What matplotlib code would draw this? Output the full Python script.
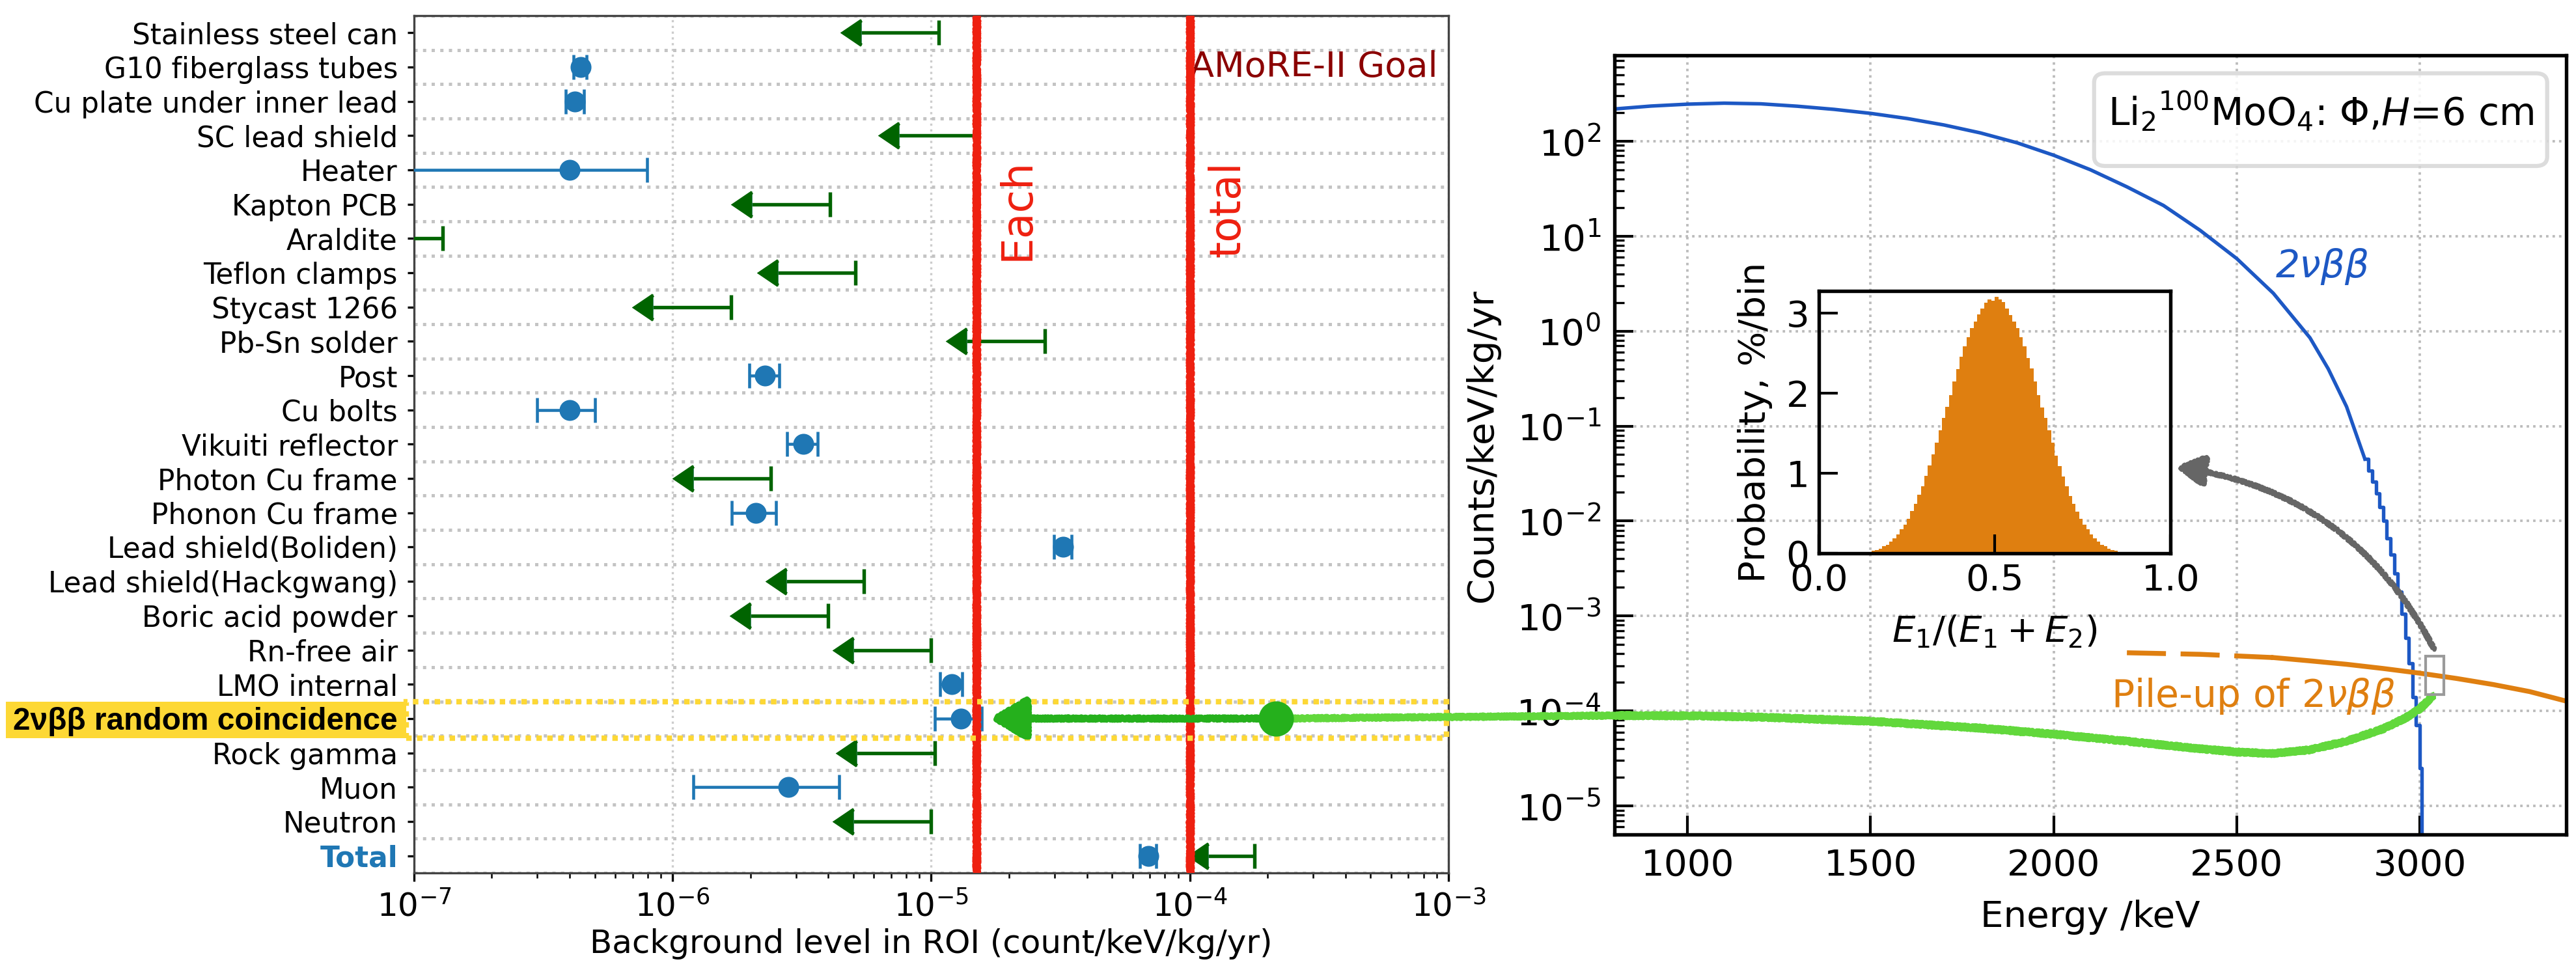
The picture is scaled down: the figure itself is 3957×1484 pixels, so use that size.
import numpy as np
import matplotlib
matplotlib.use('Agg')
import matplotlib.pyplot as plt
from matplotlib.patches import Rectangle, FancyArrowPatch, FancyBboxPatch, ConnectionPatch
from matplotlib.lines import Line2D
from matplotlib.path import Path
from matplotlib.transforms import blended_transform_factory

# ---------- left panel: background budget in ROI (count/keV/kg/yr) ----------
components = ['Stainless steel can', 'G10 fiberglass tubes', 'Cu plate under inner lead',
              'SC lead shield', 'Heater', 'Kapton PCB', 'Araldite', 'Teflon clamps',
              'Stycast 1266', 'Pb-Sn solder', 'Post', 'Cu bolts', 'Vikuiti reflector',
              'Photon Cu frame', 'Phonon Cu frame', 'Lead shield(Boliden)',
              'Lead shield(Hackgwang)', 'Boric acid powder', 'Rn-free air', 'LMO internal',
              '2νββ random coincidence', 'Rock gamma', 'Muon', 'Neutron', 'Total']

measured = [None, 4.4e-7, 4.2e-7, None, 4.0e-7, None, None, None, None, None,
            2.28e-6, 4.0e-7, 3.2e-6, None, 2.1e-6, 3.24e-5, None, None, None, 1.2e-5,
            1.3e-5, None, 2.8e-6, None, 6.9e-5]
measured_err = [None, 0.25e-7, 0.33e-7, None, 3.95e-7, None, None, None, None, None,
                0.3e-6, 1.0e-7, 0.43e-6, None, 0.41e-6, 0.25e-5, None, None, None, 0.12e-5,
                0.27e-5, None, 1.6e-6, None, 0.5e-5]
upper_limit = [1.07e-5, None, None, 1.5e-5, None, 4.05e-6, 1.29e-7, 5.1e-6, 1.68e-6, 2.75e-5,
               None, None, None, 2.4e-6, None, None, 5.5e-6, 4.0e-6, 1.0e-5, None,
               None, 1.03e-5, None, 1.0e-5, 1.78e-4]

each_goal = 1.5e-5
total_goal = 1.0e-4
rc_pileup = 2.15e-4    # 2vbb random coincidence, raw
rc_reduced = 1.71e-5   # after rejection

# ---------- right panel: 2vbb spectrum ----------
spec_E = [800, 900, 1000, 1100, 1200, 1300, 1400, 1500, 1600, 1700, 1800, 1900, 2000,
          2100, 2200, 2300, 2400, 2500, 2600, 2700, 2750, 2800, 2850]
spec_counts = [218, 234, 245, 251, 247, 233, 216, 196, 173, 148, 122, 96, 71,
               50, 33, 21, 11.5, 5.8, 2.5, 0.85, 0.4, 0.16, 0.045]
tail_E = [2850, 2860, 2870, 2880, 2890, 2900, 2910, 2920, 2930, 2940, 2950, 2960,
          2970, 2980, 2990, 3000, 3005]
tail_counts = [0.045, 0.034, 0.026, 0.0195, 0.014, 0.010, 6.6e-3, 4.4e-3, 2.8e-3, 1.8e-3,
               1.05e-3, 5.9e-4, 3.2e-4, 1.4e-4, 7.1e-5, 2.5e-5, 1e-8]

pileup_E = [2200, 2400, 2600, 2700, 2800, 2900, 3000, 3100, 3200, 3300, 3400]
pileup_counts = [4.1e-4, 3.95e-4, 3.65e-4, 3.37e-4, 3.1e-4, 2.8e-4, 2.5e-4, 2.2e-4,
                 1.9e-4, 1.6e-4, 1.27e-4]
pileup_dashed_until = 2600

rc_E = [800, 1000, 1200, 1500, 1800, 2000, 2200, 2400, 2500, 2600, 2700, 2800, 2900,
        2960, 3000, 3035]
rc_counts = [8.95e-5, 8.9e-5, 8.6e-5, 7.8e-5, 6.6e-5, 5.7e-5, 4.8e-5, 4.0e-5, 3.7e-5,
             3.56e-5, 3.9e-5, 4.8e-5, 6.5e-5, 8.4e-5, 1.05e-4, 1.44e-4]

window_E = (3016, 3066)
window_counts = (1.5e-4, 3.76e-4)

# ---------- inset: energy sharing of the two events ----------
ratio_edges = np.linspace(0.14, 0.86, 73)
prob_per_bin = [0.02, 0.03, 0.04, 0.06, 0.09, 0.11, 0.15, 0.19, 0.24, 0.30,
                0.36, 0.43, 0.53, 0.62, 0.73, 0.84, 0.97, 1.10, 1.24, 1.38,
                1.54, 1.69, 1.83, 1.98, 2.15, 2.30, 2.46, 2.59, 2.70, 2.82,
                2.90, 2.99, 3.06, 3.13, 3.17, 3.16, 3.21,
                3.17, 3.14, 3.06, 2.98, 2.90, 2.82, 2.70, 2.59, 2.44, 2.31,
                2.15, 1.98, 1.82, 1.69, 1.54, 1.38, 1.22, 1.09, 0.96, 0.84,
                0.72, 0.62, 0.52, 0.43, 0.36, 0.30, 0.24, 0.19, 0.15, 0.11,
                0.09, 0.06, 0.04, 0.03, 0.02]

blue = '#1f77b4'
spec_blue = '#1d58c4'
orange = '#df7f10'
red = '#ee2010'
green_dark = '#25b01c'
green_light = '#62d83c'
yellow = '#fdd835'
# two sketch passes give the hand-drawn, chalky look
rough_passes = [(2.6, 5, 3), (2.2, 8, 2)]

fig = plt.figure(figsize=(3957 / 300, 1484 / 300), dpi=300)

# ================= left panel =================
ax1 = fig.add_axes([0.1607, 0.0964, 0.4016, 0.8875])
n = len(components)
ypos = np.arange(n)[::-1]

ax1.set_xscale('log')
ax1.set_xlim(1e-7, 1e-3)
ax1.set_ylim(-0.5, n - 0.5)

mi = [i for i, v in enumerate(measured) if v is not None]
ax1.errorbar([measured[i] for i in mi], ypos[mi], xerr=[measured_err[i] for i in mi],
             fmt='o', color=blue, ms=6.7, elinewidth=1.1, capsize=4.5, capthick=1.1, zorder=3)

li = [i for i, v in enumerate(upper_limit) if v is not None]
lim = np.array([upper_limit[i] for i in li])
lim_end = np.array([0.66 if components[i] == 'Total' else 0.5 for i in li])
ax1.errorbar(lim, ypos[li], xerr=lim * (1 - lim_end), xuplims=True, fmt='none',
             ecolor='darkgreen', elinewidth=1.3, capsize=4.5, capthick=1.3, zorder=3)
head = Path([(0, 0.64), (-1, 0), (0, -0.64), (0, 0.64)],
            [Path.MOVETO, Path.LINETO, Path.LINETO, Path.CLOSEPOLY])
ax1.plot(lim * lim_end, ypos[li], ls='none', marker=head, ms=15.4, mew=0,
         color='darkgreen', zorder=3)

for g in (each_goal, total_goal):
    for sp in rough_passes:
        ln = ax1.axvline(g, color=red, lw=2.2, zorder=4)
        ln.set_sketch_params(*sp)
ax1.text(each_goal * 1.43, 18.85, 'Each', color=red, fontsize=15.5, rotation=90,
         ha='center', va='center')
ax1.text(total_goal * 1.4, 18.85, 'total', color=red, fontsize=15.5, rotation=90,
         ha='center', va='center')
ax1.text(total_goal, ypos[1], 'AMoRE-II Goal', color='#8b0000', fontsize=13,
         ha='left', va='center')

# random coincidence highlight
rc_y = ypos[components.index('2νββ random coincidence')]
trans = blended_transform_factory(ax1.transAxes, ax1.transData)
ax1.add_patch(Rectangle((-0.0075, rc_y - 0.58), 1.0055, 1.08, transform=trans, fill=False,
                        ec=yellow, lw=2.0, ls=(0, (1, 1)), clip_on=False, zorder=5))
ax1.add_patch(Rectangle((-0.3946, rc_y - 0.58), 0.3871, 1.08, transform=trans,
                        fc=yellow, ec='none', clip_on=False, zorder=1))

for sp in rough_passes:
    arr = FancyArrowPatch((rc_pileup, rc_y), (rc_reduced, rc_y),
                          arrowstyle='-|>,head_length=11.5,head_width=6.8', mutation_scale=1,
                          color=green_dark, lw=1.9, shrinkA=0, shrinkB=0, zorder=6)
    arr.set_sketch_params(*sp)
    ax1.add_patch(arr)

ax1.set_yticks(ypos)
ax1.set_yticklabels(components, fontsize=10.5)
for lab in ax1.get_yticklabels():
    if lab.get_text() == '2νββ random coincidence':
        lab.set_fontfamily('Liberation Sans')
        lab.set_fontweight('bold')
        lab.set_fontsize(11.5)
    elif lab.get_text() == 'Total':
        lab.set_color(blue)
        lab.set_fontweight('bold')
ax1.set_yticks(np.arange(-0.5, n, 1.0), minor=True)
ax1.tick_params(axis='y', which='major', length=2.5, width=0.8)
ax1.tick_params(axis='y', which='minor', length=0)
ax1.tick_params(axis='x', which='major', labelsize=12, length=3, width=0.8)
ax1.tick_params(axis='x', which='minor', length=1.8, width=0.6)
ax1.grid(axis='y', which='minor', ls=':', color='#c4c4c4', lw=1.2)
ax1.grid(axis='x', which='major', ls=':', color='#cccccc', lw=0.8)
for s in ax1.spines.values():
    s.set_color('#444444')
ax1.set_xlabel('Background level in ROI (count/keV/kg/yr)', fontsize=12, labelpad=2)

# ================= right panel =================
ax2 = fig.add_axes([0.6267, 0.1361, 0.3695, 0.8066])
ax2.set_yscale('log')
ax2.plot(spec_E, spec_counts, color=spec_blue, lw=1.3)
ax2.step(tail_E, tail_counts, where='post', color=spec_blue, lw=1.3)

pe = np.array(pileup_E)
pc = np.array(pileup_counts)
dsh = pe <= pileup_dashed_until
ax2.plot(pe[dsh], pc[dsh], color=orange, lw=1.8, dashes=(8, 3))
ax2.plot(pe[pe >= pileup_dashed_until], pc[pe >= pileup_dashed_until], color=orange, lw=1.8)

for sp in rough_passes:
    rc_line, = ax2.plot(rc_E, rc_counts, color=green_light, lw=2.2, zorder=4)
    rc_line.set_sketch_params(*sp)

ax2.add_patch(Rectangle((window_E[0], window_counts[0]), window_E[1] - window_E[0],
                        window_counts[1] - window_counts[0], fill=False, ec='#9a9a9a', lw=1.0,
                        zorder=5))
for sp in rough_passes:
    garr = FancyArrowPatch((3040, 4.4e-4), (2337, 0.037), connectionstyle='arc3,rad=0.26',
                           arrowstyle='-|>,head_length=9,head_width=5', mutation_scale=1,
                           color='#666666', lw=1.4, shrinkA=0, shrinkB=0, zorder=6)
    garr.set_sketch_params(*sp)
    ax2.add_patch(garr)

ax2.text(2606, 4.8, '2νββ', color=spec_blue, fontsize=14, style='italic',
         ha='left', va='center')
ax2.text(2157, 1.44e-4, r'Pile-up of $\mathit{2}\nu\beta\beta$', color=orange, fontsize=14,
         ha='left', va='center')

ax2.add_patch(FancyBboxPatch((0.504, 0.858), 0.476, 0.119,
                             boxstyle='round,pad=0,rounding_size=0.012',
                             transform=ax2.transAxes, fc='white', ec='#d6d6d6', lw=1.5,
                             alpha=0.85, zorder=6))
ax2.text(0.742, 0.928, r'Li$_2$$^{100}$MoO$_4$: $\Phi$,$H$=6 cm', transform=ax2.transAxes,
         fontsize=14, ha='center', va='center', zorder=7)

ax2.set_xlim(800, 3400)
ax2.set_ylim(5e-6, 800)
ax2.set_xticks([1000, 1500, 2000, 2500, 3000])
ax2.grid(True, which='major', ls=':', color='#bbbbbb', lw=0.9)
ax2.tick_params(which='both', direction='in', labelsize=13.5)
ax2.tick_params(which='major', length=7, width=1.0, pad=5)
ax2.tick_params(which='minor', length=3.5, width=0.8)
for s in ax2.spines.values():
    s.set_linewidth(1.3)
ax2.set_xlabel('Energy /keV', fontsize=13.5, labelpad=6)
ax2.set_ylabel('Counts/keV/kg/yr', fontsize=13.5, labelpad=6)

# ================= inset =================
ax3 = fig.add_axes([0.7061, 0.4272, 0.1365, 0.2716])
ax3.set_facecolor('none')
ax3.stairs(prob_per_bin, ratio_edges, fill=True, color=orange)
ax3.set_xlim(0, 1)
ax3.set_ylim(0, 3.28)
ax3.set_xticks([0, 0.5, 1.0])
ax3.set_xticklabels(['0.0', '0.5', '1.0'])
ax3.set_yticks([0, 1, 2, 3])
ax3.tick_params(direction='in', length=7, width=1.0, labelsize=13.5)
for s in ax3.spines.values():
    s.set_linewidth(1.3)
ax3.set_xlabel(r'$E_1/(E_1+E_2)$', fontsize=13.5, labelpad=6)
ax3.set_ylabel('Probability, %/bin', fontsize=13.5, labelpad=5)

# link from the random-coincidence level to the spectrum
for sp in rough_passes:
    con = ConnectionPatch(xyA=(rc_pileup, rc_y), coordsA=ax1.transData,
                          xyB=(rc_E[0], rc_counts[0]), coordsB=ax2.transData,
                          color=green_light, lw=1.9, zorder=5)
    con.set_sketch_params(*sp)
    fig.add_artist(con)
dot = Line2D([rc_pileup], [rc_y], marker='o', ms=12, color=green_dark, ls='none',
             transform=ax1.transData, zorder=6)
fig.add_artist(dot)

fig.savefig('out.png', dpi=300)
